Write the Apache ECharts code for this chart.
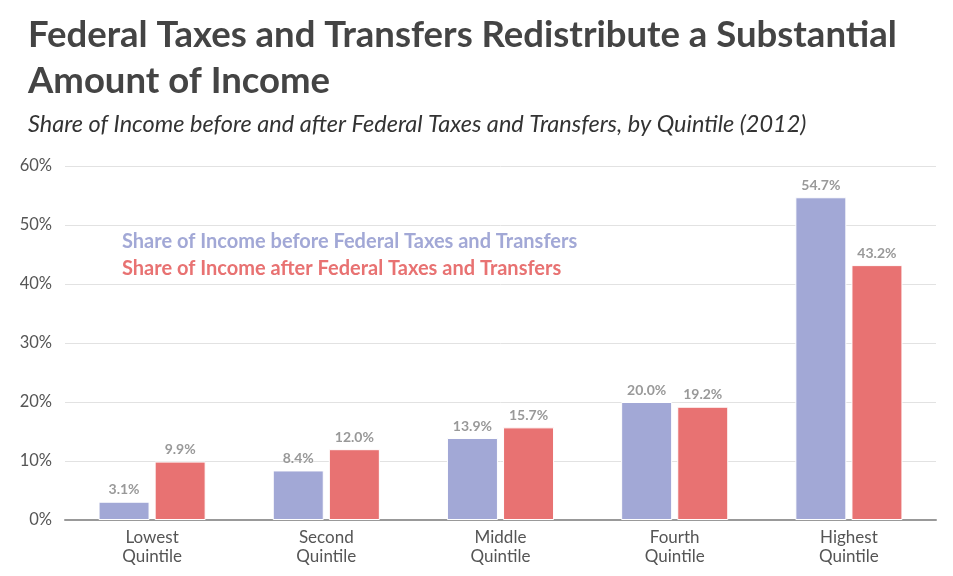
<!DOCTYPE html>
<html>
<head>
<meta charset="utf-8">
<script src="https://cdn.jsdelivr.net/npm/echarts@6/dist/echarts.min.js"></script>
<style>
  html, body { margin: 0; padding: 0; background: #fff; }
  #chart { width: 953px; height: 576px; }
</style>
</head>
<body>
<div id="chart"></div>
<script>
var quintiles = ['Lowest\nQuintile', 'Second\nQuintile', 'Middle\nQuintile', 'Fourth\nQuintile', 'Highest\nQuintile'];
var beforeShare = [3.1, 8.4, 13.9, 20.0, 54.7];
var afterShare = [9.9, 12.0, 15.7, 19.2, 43.2];
var yTicks = [0, 10, 20, 30, 40, 50, 60];

var seriesNames = ['Share of Income before Federal Taxes and Transfers', 'Share of Income after Federal Taxes and Transfers'];
var colors = ['#a2a8d6', '#e87272'];

var myChart = echarts.init(document.getElementById('chart'));
var labelStyle = {
	show: true,
	position: 'top',
	distance: 5,
	color: '#999',
	fontFamily: 'Lato',
	fontWeight: 'bold',
	fontSize: 14,
	formatter: function(p) { return p.value.toFixed(1) + '%'; }
};
myChart.setOption({
	textStyle: { fontFamily: 'Lato' },
	title: [{
		text: 'Federal Taxes and Transfers Redistribute a Substantial\nAmount of Income',
		left: 23,
		top: 7,
		textStyle: { fontFamily: 'Lato', fontWeight: 'bold', fontSize: 36.5, color: '#444', lineHeight: 46 }
	}, {
		text: 'Share of Income before and after Federal Taxes and Transfers, by Quintile (2012)',
		left: 23,
		top: 108,
		textStyle: { fontFamily: 'Lato', fontStyle: 'italic', fontWeight: 'normal', fontSize: 23.5, color: '#333' }
	}],
	legend: {
		orient: 'vertical',
		left: 112,
		top: 227,
		itemWidth: 0,
		itemHeight: 0,
		itemGap: 7,
		icon: 'none',
		selectedMode: false,
		data: [
			{ name: seriesNames[0], textStyle: { color: colors[0] } },
			{ name: seriesNames[1], textStyle: { color: colors[1] } }
		],
		textStyle: { fontFamily: 'Lato', fontWeight: 'bold', fontSize: 20 }
	},
	grid: { left: 65, right: 17, top: 166, bottom: 56 },
	xAxis: {
		type: 'category',
		data: quintiles,
		axisLine: { lineStyle: { color: '#999', width: 2 } },
		axisTick: { show: false },
		axisLabel: { color: '#555', fontSize: 17, fontFamily: 'Lato', lineHeight: 19, margin: 8 }
	},
	yAxis: {
		type: 'value',
		min: yTicks[0],
		max: yTicks[yTicks.length - 1],
		interval: 10,
		axisLine: { show: false },
		axisTick: { show: false },
		splitLine: { lineStyle: { color: '#e2e2e2', width: 1 } },
		axisLabel: { color: '#555', fontSize: 16.5, fontFamily: 'Lato', margin: 13, formatter: '{value}%' }
	},
	series: [{
		name: seriesNames[0],
		type: 'bar',
		data: beforeShare,
		barWidth: 51,
		barGap: '10%',
		itemStyle: { color: colors[0], borderColor: '#fff', borderWidth: 1 },
		label: labelStyle
	}, {
		name: seriesNames[1],
		type: 'bar',
		data: afterShare,
		barWidth: 51,
		itemStyle: { color: colors[1], borderColor: '#fff', borderWidth: 1 },
		label: labelStyle
	}]
});
</script>
</body>
</html>
